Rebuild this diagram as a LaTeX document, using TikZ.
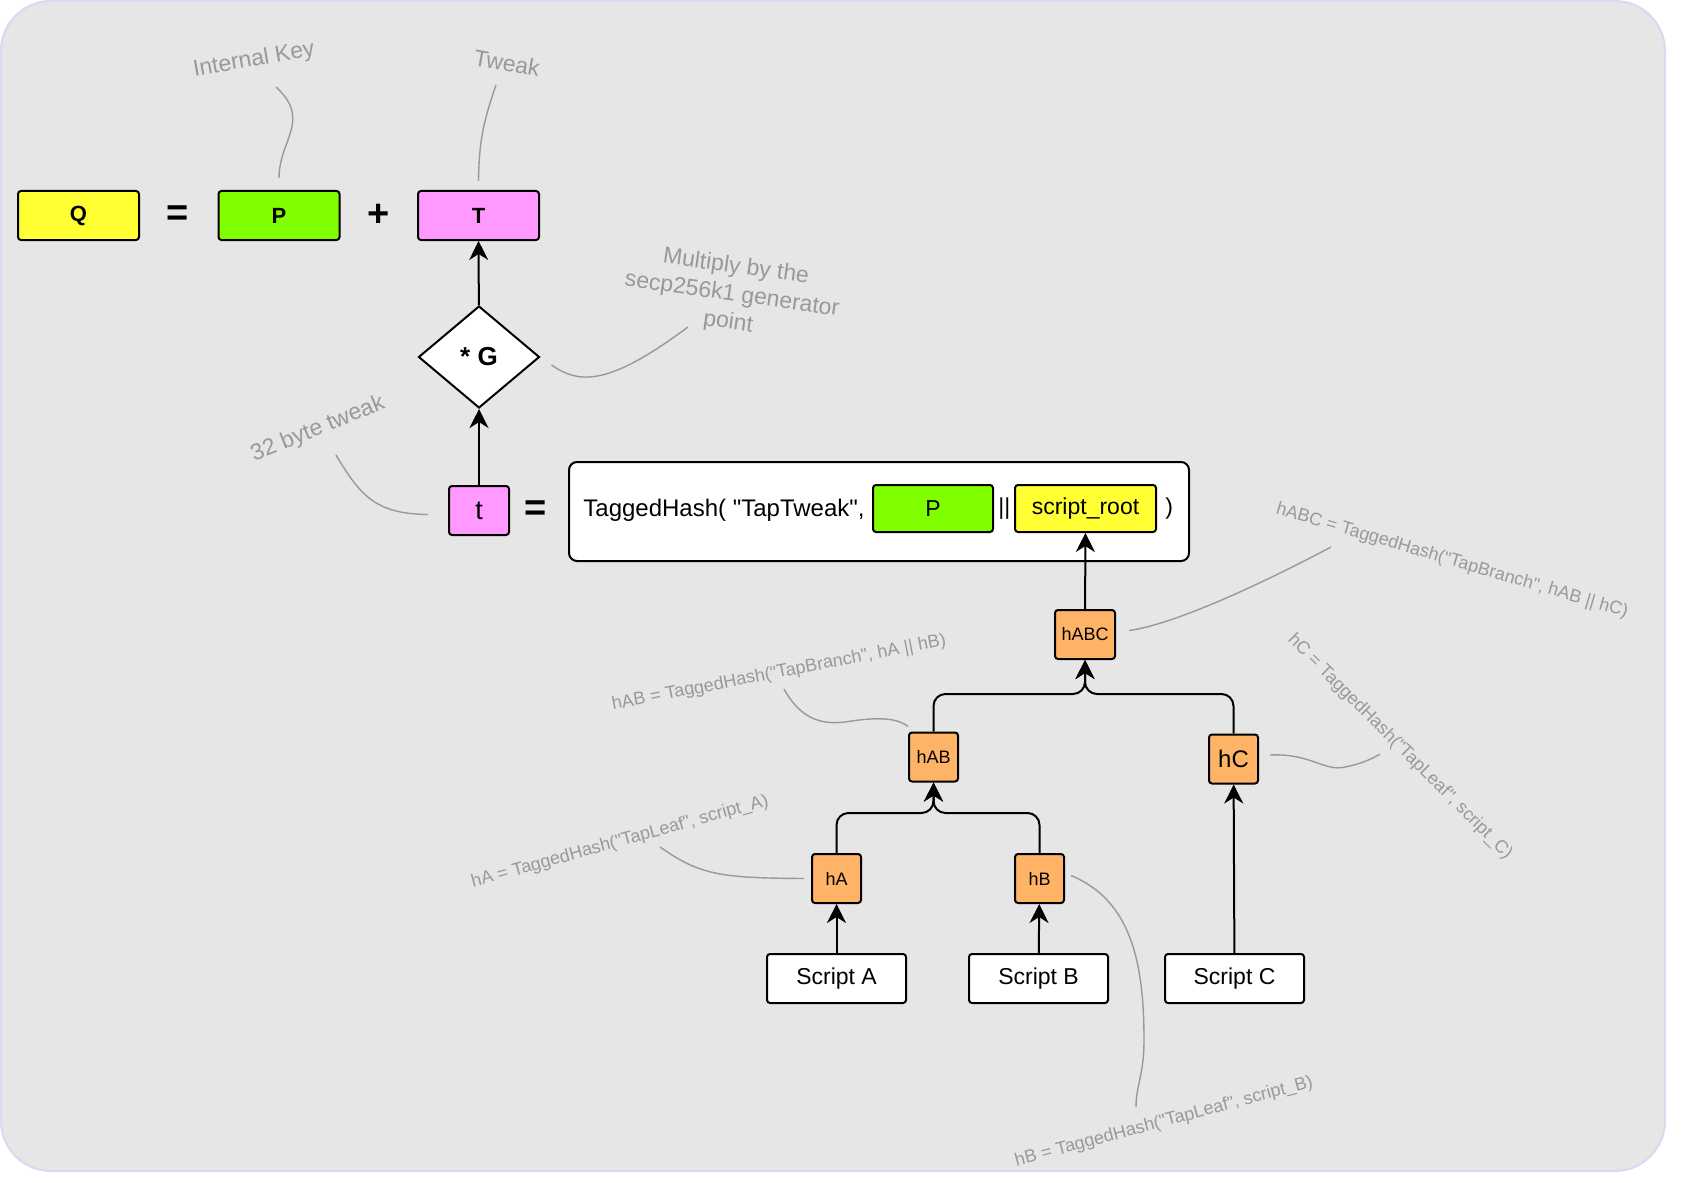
\documentclass[tikz,border=0pt]{standalone}
\usepackage{fontspec}
\setmainfont{Liberation Sans}[Ligatures=TeXOff]
\usetikzlibrary{arrows.meta}
\usetikzlibrary{positioning}
\usetikzlibrary{shapes.geometric}
\definecolor{bgfill}{HTML}{E6E6E6}
\definecolor{bgline}{HTML}{E1D5F2}
\definecolor{keyyellow}{HTML}{FFFF33}
\definecolor{keygreen}{HTML}{80FF00}
\definecolor{keypink}{HTML}{FF99FF}
\definecolor{hashorange}{HTML}{FFB366}
\definecolor{notegray}{HTML}{999999}
\pgfkeys{tikz/box/.style={draw,line width=1pt,rounded corners=1.5pt,inner sep=0pt,align=center}}
\pgfkeys{tikz/keybox/.style={box,minimum width=60.5pt,minimum height=24.5pt,font=\bfseries\fontsize{11}{13}\selectfont}}
\pgfkeys{tikz/hashbox/.style={box,fill=hashorange,minimum width=24.5pt,minimum height=24.5pt,font=\fontsize{9}{11}\selectfont}}
\pgfkeys{tikz/scriptbox/.style={box,fill=white,minimum width=69.5pt,minimum height=24.5pt,font=\fontsize{11.5}{13}\selectfont}}
\pgfkeys{tikz/sign/.style={inner sep=0pt,font=\bfseries\fontsize{19}{20}\selectfont}}
\pgfkeys{tikz/note/.style={inner sep=0pt,text=notegray,font=\fontsize{9}{11}\selectfont}}
\pgfkeys{tikz/bignote/.style={note,align=center,font=\fontsize{11.5}{14}\selectfont}}
\pgfkeys{tikz/link/.style={draw=notegray,line width=0.7pt}}
\pgfkeys{tikz/arr/.style={line width=1pt,-{Stealth[length=9.5pt,width=9.5pt,inset=3pt]}}}
\pgfkeys{tikz/tree/.style={arr,rounded corners=6pt}}

\begin{document}
\begin{tikzpicture}[x=0.5pt,y=-0.5pt]
    \useasboundingbox (0,0) rectangle (1700,1182);
    \path[fill=bgfill,draw=bgline,line width=1pt,rounded corners=25pt] (1,1) rectangle (1665,1171);

    % Q = P + T
    \node[keybox,fill=keyyellow] (Q) at (78.5,215.5) {Q};
    \node[sign,right=13pt of Q] (eqq) {=};
    \node[keybox,fill=keygreen] (P) at (279,215.5) {P};
    \node[sign,right=13.5pt of P] (plus) {+};
    \node[keybox,fill=keypink] (T) at (478.5,215.5) {T};
    \node[draw,fill=white,line width=1pt,diamond,inner sep=0pt,minimum width=60.5pt,minimum height=51pt,
        font=\bfseries\fontsize{13}{15}\selectfont] (G) at (479,357) {* G};
    \node[box,fill=keypink,minimum width=30pt,minimum height=24.5pt,font=\fontsize{13.5}{15}\selectfont] (t) at (479,510.5) {t};
    \node[sign,right=7pt of t] (eqt) {=};

    % tweak hash
    \node[box,fill=white,rounded corners=4pt,minimum width=310pt,minimum height=49.5pt] (hash) at (879,511.5) {};
    \node[anchor=west,inner sep=0pt,font=\fontsize{12}{14}\selectfont] (tag) at (583,510) {TaggedHash( "TapTweak",};
    \node[box,fill=keygreen,minimum width=60pt,minimum height=23.5pt,font=\fontsize{11.5}{13}\selectfont] (pin) at (933,508.5) {P};
    \node[right=2pt of pin,inner sep=0pt,font=\fontsize{11.5}{13}\selectfont] (bar) {||};
    \node[box,fill=keyyellow,minimum width=70.5pt,minimum height=23.5pt,font=\fontsize{11.5}{13}\selectfont] (root) at (1085.5,508.5) {script\_root};
    \node[right=4pt of root,inner sep=0pt,font=\fontsize{11.5}{13}\selectfont] (close) {)};

    % script tree
    \node[hashbox,minimum width=30pt] (hABC) at (1085,634.5) {hABC};
    \node[hashbox] (hAB) at (933.5,757) {hAB};
    \node[hashbox,font=\fontsize{12}{14}\selectfont] (hC) at (1233.5,759) {hC};
    \node[hashbox] (hA) at (836.5,878.5) {hA};
    \node[hashbox] (hB) at (1039.5,878.5) {hB};
    \node[scriptbox] (sA) at (836.5,978.5) {Script A};
    \node[scriptbox] (sB) at (1038.5,978.5) {Script B};
    \node[scriptbox] (sC) at (1234.5,978.5) {Script C};
    \coordinate (jABC) at (1085,694);
    \coordinate (jAB) at (933.5,813);

    \draw[arr] (G) -- (T);
    \draw[arr] (t) -- (G);
    \draw[arr] (hABC) -- (root);
    \draw[tree] (hAB.north) |- (jABC) -- (hABC.south);
    \draw[tree] (hC.north) |- (jABC) -- (hABC.south);
    \draw[tree] (hA.north) |- (jAB) -- (hAB.south);
    \draw[tree] (hB.north) |- (jAB) -- (hAB.south);
    \draw[arr] (sA) -- (hA);
    \draw[arr] (sB) -- (hB);
    \draw[arr] (sC) -- (hC);

    % notes
    \node[bignote,rotate=10] (ik) at (254,60) {Internal Key};
    \node[bignote,rotate=-10] (tw) at (507,63) {Tweak};
    \node[bignote,rotate=-8] (mul) at (732,295) {Multiply by the\\secp256k1 generator\\point};
    \node[bignote,rotate=22] (twk) at (318,429) {32 byte tweak};
    \node[note,rotate=-16.5] (nABC) at (1452,561) {hABC = TaggedHash("TapBranch", hAB || hC)};
    \node[note,rotate=11] (nAB) at (779,673) {hAB = TaggedHash("TapBranch", hA || hB)};
    \node[note,rotate=-45] (nC) at (1400,747) {hC = TaggedHash("TapLeaf", script\_C)};
    \node[note,rotate=15.5] (nA) at (620,842) {hA = TaggedHash("TapLeaf", script\_A)};
    \node[note,rotate=15] (nB) at (1164,1122) {hB = TaggedHash("TapLeaf", script\_B)};
    \coordinate (ikA) at (276,87);
    \coordinate (twA) at (496,85);
    \coordinate (mulA) at (688,327);
    \coordinate (twkA) at (336,455);
    \coordinate (nABCa) at (1331,547);
    \coordinate (nABa) at (784,689);
    \coordinate (nCa) at (1380,754);
    \coordinate (nAa) at (660,847);
    \coordinate (nBa) at (1136,1107);

    \draw[link] (ikA) .. controls (312,120) and (279,140) .. ([yshift=6pt]P.north);
    \draw[link] (twA) .. controls (484,120) and (479,140) .. ([yshift=4.5pt]T.north);
    \draw[link] (mulA) .. controls (610,385) and (580,385) .. ([xshift=5.5pt,yshift=-4pt]G.east);
    \draw[link] (twkA) .. controls (360,495) and (375,514) .. ([xshift=-10pt,yshift=-2pt]t.west);
    \draw[link] ([xshift=6.5pt,yshift=2pt]hABC.east) .. controls (1170,625) and (1250,590) .. (nABCa);
    \draw[link] (nABa) .. controls (800,718) and (820,725) .. (845,722) .. controls (870,718) and (895,716) .. ([yshift=2.5pt]hAB.north west);
    \draw[link] ([xshift=5.5pt,yshift=2pt]hC.east) .. controls (1310,753) and (1325,772) .. (1345,767) .. controls (1360,764) and (1370,760) .. (nCa);
    \draw[link] (nAa) .. controls (700,875) and (720,878) .. ([xshift=-3.5pt]hA.west);
    \draw[link] ([xshift=3pt,yshift=1.5pt]hB.east) .. controls (1130,900) and (1144,960) .. (1144,1040) .. controls (1144,1075) and (1136,1085) .. (nBa);
\end{tikzpicture}
\end{document}
